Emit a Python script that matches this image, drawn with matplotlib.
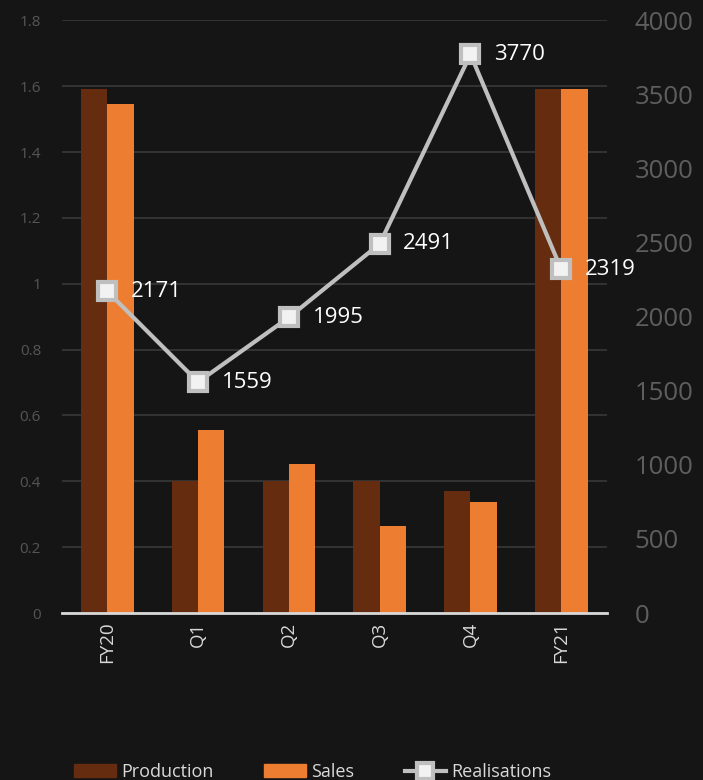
import numpy as np
import matplotlib.pyplot as plt
from matplotlib.lines import Line2D
from matplotlib.patches import Patch

categories = ['FY20', 'Q1', 'Q2', 'Q3', 'Q4', 'FY21']
production = [1.59, 0.40, 0.40, 0.40, 0.37, 1.59]
sales = [1.545, 0.555, 0.452, 0.264, 0.337, 1.59]
realisations = [2171, 1559, 1995, 2491, 3770, 2319]

bg = '#151515'
prod_color = '#652C0F'
sales_color = '#ED7D31'
line_color = '#BFBFBF'

plt.rcParams['font.family'] = ['Open Sans', 'DejaVu Sans']

fig = plt.figure(figsize=(7.03, 7.8), dpi=100, facecolor=bg)
ax = fig.add_axes([0.088, 0.214, 0.775, 0.760])
ax.set_facecolor(bg)

x = np.arange(len(categories))
width = 0.29
ax.bar(x - width / 2, production, width, color=prod_color, zorder=2)
ax.bar(x + width / 2, sales, width, color=sales_color, zorder=2)

ax.set_ylim(0, 1.8)
ax.set_xlim(-0.5, len(categories) - 0.5)
ax.set_yticks(np.arange(0, 1.81, 0.2))
ax.set_yticklabels(['0', '0.2', '0.4', '0.6', '0.8', '1', '1.2', '1.4', '1.6', '1.8'])
ax.yaxis.grid(True, color='#333333', linewidth=1.4, zorder=0)
ax.tick_params(axis='y', length=0, colors='#555555', labelsize=11, pad=15)
ax.set_xticks(x)
ax.set_xticklabels(categories, rotation=90, color='#D9D9D9', fontsize=13.5)
ax.tick_params(axis='x', length=0, pad=6)
for s in ['top', 'right', 'left']:
    ax.spines[s].set_visible(False)
ax.spines['bottom'].set_color('#D9D9D9')
ax.spines['bottom'].set_linewidth(2)
ax.spines['bottom'].set_zorder(5)

ax2 = ax.twinx()
ax2.set_ylim(0, 4000)
ax2.set_yticks(np.arange(0, 4001, 500))
ax2.tick_params(axis='y', length=0, colors='#5E5E5E', labelsize=18.5, pad=20)
for s in ax2.spines.values():
    s.set_visible(False)
ax2.plot(x, realisations, color=line_color, linewidth=3, marker='s', markersize=13,
         markerfacecolor='#F2F2F2', markeredgecolor=line_color, markeredgewidth=3, zorder=4)
for xi, v in zip(x, realisations):
    ax2.annotate(str(v), xy=(xi, v), xytext=(17, 0), textcoords='offset points',
                 ha='left', va='center', color='white', fontsize=16)

handles = [Patch(color=prod_color), Patch(color=sales_color),
           Line2D([], [], color=line_color, linewidth=3, marker='s', markersize=11,
                  markerfacecolor='#F2F2F2', markeredgecolor=line_color, markeredgewidth=3)]
fig.legend(handles, ['Production', 'Sales', 'Realisations'], loc='lower center',
           bbox_to_anchor=(0.445, -0.022), ncol=3, frameon=False, fontsize=13,
           labelcolor='#D9D9D9', handlelength=2.3, handletextpad=0.3, columnspacing=2.8)

fig.savefig('out.png', dpi=100, facecolor=bg)
